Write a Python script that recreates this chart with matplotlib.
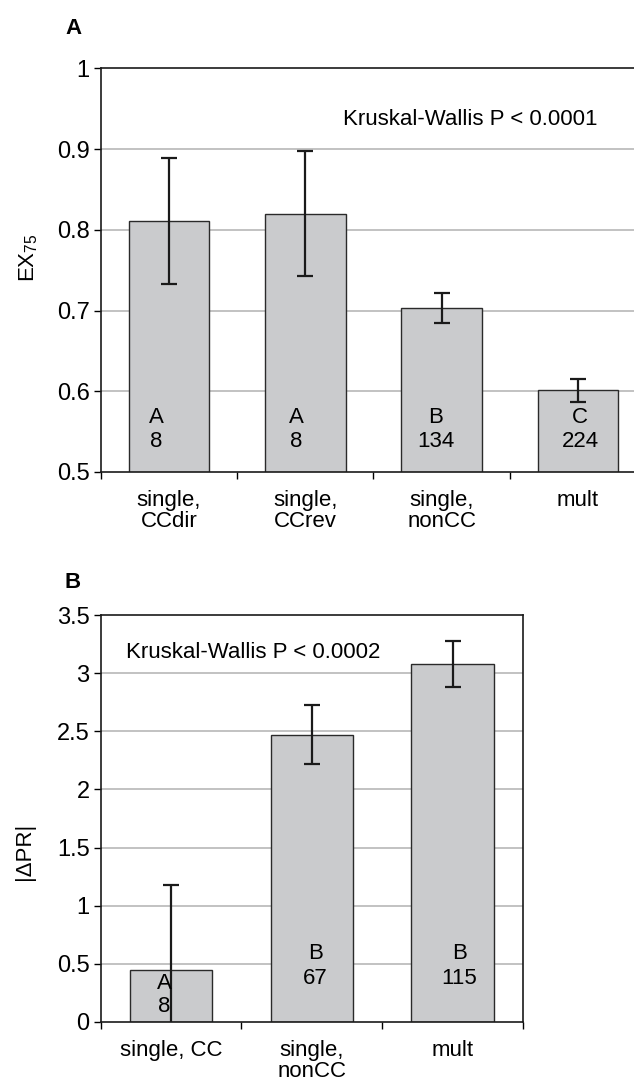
import numpy as np
import matplotlib
matplotlib.use("Agg")
import matplotlib.pyplot as plt

plt.rcParams['font.family'] = ['Liberation Sans', 'DejaVu Sans']
plt.rcParams['mathtext.fontset'] = 'custom'
plt.rcParams['mathtext.rm'] = 'Liberation Sans'
plt.rcParams['mathtext.it'] = 'Liberation Sans:italic'

# ---- Panel A data ----
cats_a = ["single,\nCCdir", "single,\nCCrev", "single,\nnonCC", "mult"]
vals_a = [0.811, 0.820, 0.703, 0.601]
err_a = [0.078, 0.0775, 0.019, 0.0145]
grp_a = ["A", "A", "B", "C"]
n_a = ["8", "8", "134", "224"]
yticks_a = [0.5, 0.6, 0.7, 0.8, 0.9, 1.0]
yticklabels_a = ["0.5", "0.6", "0.7", "0.8", "0.9", "1"]

# ---- Panel B data ----
cats_b = ["single, CC", "single,\nnonCC", "mult"]
vals_b = [0.445, 2.472, 3.08]
err_b = [0.735, 0.255, 0.195]
grp_b = ["A", "B", "B"]
n_b = ["8", "67", "115"]
yticks_b = [0, 0.5, 1, 1.5, 2, 2.5, 3, 3.5]
yticklabels_b = ["0", "0.5", "1", "1.5", "2", "2.5", "3", "3.5"]

# layout-only offsets of the in-bar annotations (category units)
offs_a = [-0.095, -0.065, -0.042, 0.015]
offs_b = [-0.05, 0.023, 0.049]

W, H = 634, 1082
fig = plt.figure(figsize=(W / 100, H / 100), dpi=100)

BAR_FC = "#cacbcd"
BAR_EC = "#2a2a2a"
GRID_C = "#b8b8b8"
FS = 16
TFS = 17


def px_axes(left, top, right, bottom):
    return fig.add_axes([left / W, 1 - bottom / H, (right - left) / W, (bottom - top) / H])


def style(ax, cats, yticks, yticklabels, ylim):
    n = len(cats)
    ax.set_xlim(-0.5, n - 0.5)
    ax.set_ylim(*ylim)
    ax.set_yticks(yticks)
    ax.set_yticklabels(yticklabels, fontsize=TFS)
    ax.set_xticks(np.arange(n))
    ax.set_xticklabels(cats, fontsize=FS, linespacing=1.0, va='top')
    ax.set_xticks(np.arange(n + 1) - 0.5, minor=True)
    ax.tick_params(axis='x', which='major', length=0, pad=13)
    ax.tick_params(axis='x', which='minor', length=5, width=1, direction='out')
    ax.tick_params(axis='y', which='major', length=5, width=1, direction='out', pad=3)
    for y in yticks:
        if ylim[0] < y < ylim[1]:
            ax.axhline(y, color=GRID_C, lw=1.2, zorder=0)
    for s in ax.spines.values():
        s.set_linewidth(1.2)
        s.set_color("#1a1a1a")


# Panel A
axA = px_axes(100.7, 68.3, 100.7 + 4 * 136.4, 472)
xa = np.arange(len(cats_a))
axA.bar(xa, vals_a, width=0.59, color=BAR_FC, edgecolor=BAR_EC, linewidth=1.0, zorder=2)
axA.errorbar(xa, vals_a, yerr=err_a, fmt='none', ecolor='#1a1a1a', elinewidth=1.6,
             capsize=6, capthick=1.6, zorder=3)
style(axA, cats_a, yticks_a, yticklabels_a, (0.5, 1.0))
for i in range(len(cats_a)):
    axA.text(xa[i] + offs_a[i], 0.567, grp_a[i], ha='center', va='center', fontsize=FS, zorder=4)
    axA.text(xa[i] + offs_a[i], 0.538, n_a[i], ha='center', va='center', fontsize=FS, zorder=4)
axA.text(2.21, 0.936, "Kruskal-Wallis P < 0.0001", ha='center', va='center', fontsize=FS)
axA.set_ylabel(r"EX$_{\mathregular{75}}$", fontsize=FS)
axA.yaxis.set_label_coords(-0.111, 0.532)
fig.text(65 / W, 1 - 29 / H, "A", fontsize=FS, fontweight='bold', ha='left', va='center')

# Panel B
axB = px_axes(100.7, 615, 523, 1022)
xb = np.arange(len(cats_b))
axB.bar(xb, vals_b, width=0.585, color=BAR_FC, edgecolor=BAR_EC, linewidth=1.0, zorder=2)
axB.errorbar(xb, vals_b, yerr=err_b, fmt='none', ecolor='#1a1a1a', elinewidth=1.6,
             capsize=6, capthick=1.6, zorder=3)
style(axB, cats_b, yticks_b, yticklabels_b, (0, 3.5))
for i in range(len(cats_b)):
    yl = 0.335 if i == 0 else 0.585
    yn = 0.13 if i == 0 else 0.378
    axB.text(xb[i] + offs_b[i], yl, grp_b[i], ha='center', va='center', fontsize=FS, zorder=4)
    axB.text(xb[i] + offs_b[i], yn, n_b[i], ha='center', va='center', fontsize=FS, zorder=4)
axB.text(0.58, 3.175, "Kruskal-Wallis P < 0.0002", ha='center', va='center', fontsize=FS)
axB.set_ylabel("|ΔPR|", fontsize=FS)
axB.yaxis.set_label_coords(-0.156, 0.42)
fig.text(65 / W, 1 - 583 / H, "B", fontsize=FS, fontweight='bold', ha='left', va='center')

fig.savefig("out.png", dpi=100)
